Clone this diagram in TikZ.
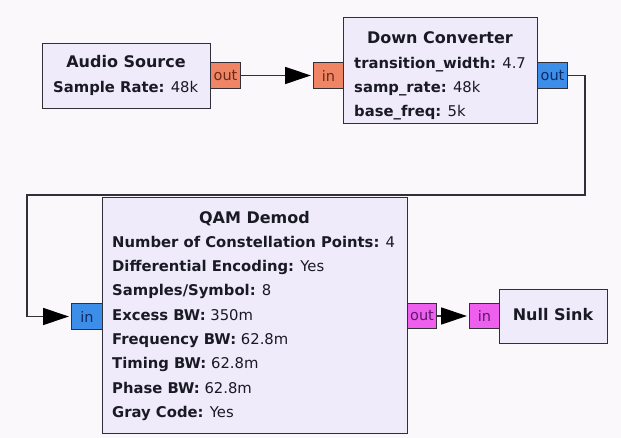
\documentclass[tikz,border=0pt]{standalone}
\usepackage{fontspec}
\setmainfont{DejaVu Sans}
\usetikzlibrary{arrows.meta}
\definecolor{bgc}{HTML}{FBF8FC}
\definecolor{blockc}{HTML}{EFEBFB}
\definecolor{floatc}{HTML}{F08566}
\definecolor{complexc}{HTML}{3D8EE8}
\definecolor{bytec}{HTML}{EE5FEE}
\definecolor{edgec}{HTML}{303038}
\definecolor{txtc}{HTML}{1A1A24}
\definecolor{floatt}{HTML}{6A2A1A}
\definecolor{complext}{HTML}{0E2A66}
\definecolor{bytet}{HTML}{5A1A6A}
\begin{document}
\begin{tikzpicture}[x=1pt,y=-1pt,
  block/.style={draw=edgec, line width=1.4pt, fill=blockc, inner sep=0pt, anchor=north west},
  port/.style={draw=edgec, line width=1pt, inner sep=0pt, anchor=north west, minimum width=30pt, minimum height=26pt, font=\fontsize{14.5}{14.5}\selectfont},
  fport/.style={port, fill=floatc, text=floatt},
  cport/.style={port, fill=complexc, text=complext},
  bport/.style={port, fill=bytec, text=bytet},
  ttl/.style={anchor=base, inner sep=0pt, text=txtc, font=\fontsize{16}{16}\selectfont\bfseries},
  prm/.style={anchor=base west, inner sep=0pt, text=txtc, font=\fontsize{14.8}{14.8}\selectfont},
  wire/.style={draw=edgec, line width=1.3pt, -{Triangle[length=26pt,width=17pt,color=black,fill=black]}, shorten >=2pt},
]
\fill[bgc] (0,0) rectangle (621,438);
\useasboundingbox (0,0) rectangle (621,438);

% Audio Source
\node[block, minimum width=168pt, minimum height=65pt] (audio) at (42,43) {};
\node[ttl] (audiot) at (126,67.5) {Audio Source};
\node[prm] (audiop1) at (53,92.5) {\textbf{Sample Rate:} 48k};
\node[fport] (audioout) at (210,62) {out};

% Down Converter
\node[fport] (dcin) at (313,62) {in};
\node[block, minimum width=194pt, minimum height=106pt] (dc) at (343,17) {};
\node[ttl] (dct) at (440,43.5) {Down Converter};
\node[prm] (dcp1) at (354,68.5) {\textbf{transition\_width:} 4.7};
\node[prm] (dcp2) at (354,93) {\textbf{samp\_rate:} 48k};
\node[prm] (dcp3) at (354,116.5) {\textbf{base\_freq:} 5k};
\node[cport] (dcout) at (537,62) {out};

% QAM Demod
\node[cport, minimum width=31pt] (qamin) at (71,303) {in};
\node[block, minimum width=305pt, minimum height=236pt] (qam) at (102,197) {};
\node[ttl] (qamt) at (254.5,223.5) {QAM Demod};
\node[prm] (qamp1) at (112,247.2) {\textbf{Number of Constellation Points:} 4};
\node[prm] (qamp2) at (112,271.5) {\textbf{Differential Encoding:} Yes};
\node[prm] (qamp3) at (112,295.8) {\textbf{Samples/Symbol:} 8};
\node[prm] (qamp4) at (112,320.1) {\textbf{Excess BW:} 350m};
\node[prm] (qamp5) at (112,344.4) {\textbf{Frequency BW:} 62.8m};
\node[prm] (qamp6) at (112,368.7) {\textbf{Timing BW:} 62.8m};
\node[prm] (qamp7) at (112,393) {\textbf{Phase BW:} 62.8m};
\node[prm] (qamp8) at (112,417.3) {\textbf{Gray Code:} Yes};
\node[bport, minimum width=29pt, minimum height=25pt] (qamout) at (407,303) {out};

% Null Sink
\node[bport, minimum height=25pt] (nullin) at (469,303) {in};
\node[block, minimum width=108pt, minimum height=54pt] (null) at (499,289) {};
\node[ttl] (nullt) at (553,320.5) {Null Sink};

% connectors
\coordinate (c1) at (585,195);
\coordinate (c2) at (27,195);
\draw[wire] (audioout.east) -- (dcin.west);
\draw[wire] (dcout.east) -| (c1) -- (c2) |- (qamin.west);
\draw[wire] (qamout.east) -- (nullin.west);
\end{tikzpicture}
\end{document}
